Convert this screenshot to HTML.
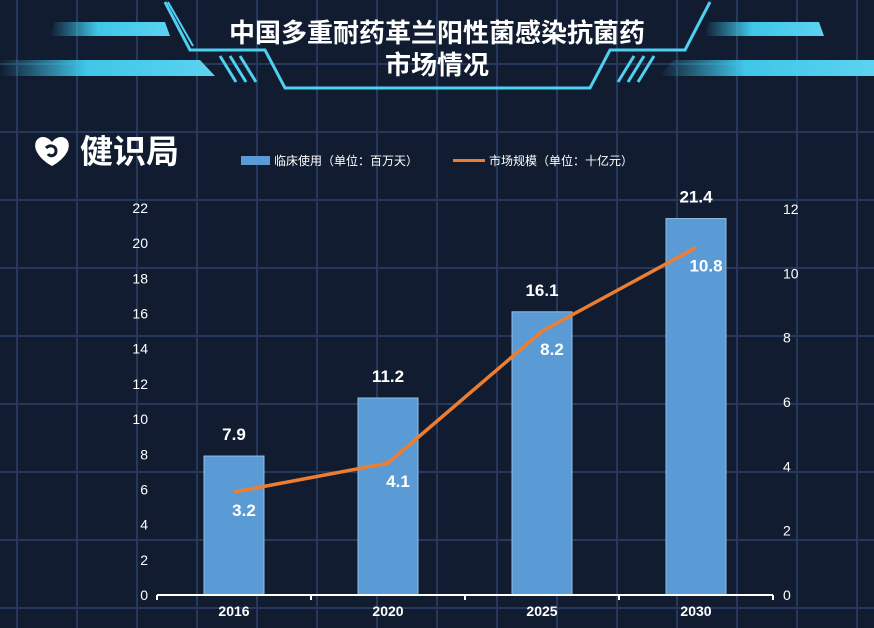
<!DOCTYPE html>
<html><head><meta charset="utf-8">
<style>
html,body{margin:0;padding:0;background:#111c30;}
svg{display:block;font-family:"Liberation Sans","Noto Sans CJK SC",sans-serif;}
</style></head>
<body>
<svg id="chart" width="874" height="628" viewBox="0 0 874 628" xmlns="http://www.w3.org/2000/svg">
<defs>
<linearGradient id="barL" x1="0" x2="1"><stop offset="0" stop-color="#3fc6e8" stop-opacity="0"/><stop offset="0.4" stop-color="#3fc6e8"/><stop offset="1" stop-color="#5bd3f0"/></linearGradient>
<linearGradient id="barR" x1="1" x2="0"><stop offset="0" stop-color="#5bd3f0"/><stop offset="0.6" stop-color="#3fc6e8"/><stop offset="1" stop-color="#3fc6e8" stop-opacity="0"/></linearGradient>
</defs>
<rect width="874" height="628" fill="#111c30"/>
<g id="grid" stroke="#26395a" stroke-width="2"></g>
<g>
<polygon points="0,60 200,60 215,76 0,76" fill="url(#barL)"/>
<polygon points="55,22 165,22 170,36 50,36" fill="url(#barL)"/>
<polygon points="874,60 674,60 659,76 874,76" fill="url(#barR)"/>
<polygon points="819,22 709,22 704,36 824,36" fill="url(#barR)"/>
<polyline points="165,2 190,50 265,50 285,88 590,88 610,50 685,50 710,2" fill="none" stroke="#4fd0f0" stroke-width="3"/>
<polyline points="168,2 193,46" fill="none" stroke="#4fd0f0" stroke-width="2"/>
<g stroke="#4fd0f0" stroke-width="3"><line x1="220" y1="56" x2="236" y2="82"/><line x1="230" y1="56" x2="246" y2="82"/><line x1="240" y1="56" x2="256" y2="82"/><line x1="654" y1="56" x2="638" y2="82"/><line x1="644" y1="56" x2="628" y2="82"/><line x1="634" y1="56" x2="618" y2="82"/></g>
<text x="437" y="42" text-anchor="middle" fill="#fff" font-size="26" font-weight="bold">中国多重耐药革兰阳性菌感染抗菌药</text>
<text x="437" y="74" text-anchor="middle" fill="#fff" font-size="26" font-weight="bold">市场情况</text>
</g>
<g>
<path d="M52,142 C44,132 32,138 36,150 C40,160 52,166 52,166 C52,166 64,160 68,150 C72,138 60,132 52,142 Z" fill="#fff"/>
<path d="M46,148 C50,144 56,146 56,151 C56,156 50,157 48,154" fill="none" stroke="#111c30" stroke-width="3"/>
<text x="80" y="163" fill="#fff" font-size="33" font-weight="bold">健识局</text>
</g>
<g>
<rect x="241" y="156" width="29" height="9" fill="#5b9bd5"/>
<text x="274" y="165" fill="#fff" font-size="12">临床使用（单位：百万天）</text>
<rect x="453" y="159" width="32" height="3" fill="#ed7d31"/>
<text x="489" y="165" fill="#fff" font-size="12">市场规模（单位：十亿元）</text>
</g>
<g id="plot"></g>
</svg>
<script>
const categories = ["2016","2020","2025","2030"];
const clinicalUse = [7.9, 11.2, 16.1, 21.4];
const marketSize = [3.2, 4.1, 8.2, 10.8];
const leftTicks = [0,2,4,6,8,10,12,14,16,18,20,22];
const rightTicks = [0,2,4,6,8,10,12];

const NS = "http://www.w3.org/2000/svg";
const grid = document.getElementById("grid");
for (let x = 17; x < 874; x += 60) { const l = document.createElementNS(NS,"line"); l.setAttribute("x1",x); l.setAttribute("x2",x); l.setAttribute("y1",0); l.setAttribute("y2",628); grid.appendChild(l); }
for (let y = 64; y < 628; y += 68) { const l = document.createElementNS(NS,"line"); l.setAttribute("x1",0); l.setAttribute("x2",874); l.setAttribute("y1",y); l.setAttribute("y2",y); grid.appendChild(l); }

const x0 = 157, x1 = 773, yBase = 595;
const band = (x1 - x0) / categories.length;
const xC = i => x0 + band * (i + 0.5);
const yL = v => yBase - v * (387 / 22);
const yR = v => yBase - v * (386 / 12);
const plot = document.getElementById("plot");
function mk(tag, attrs, text) { const e = document.createElementNS(NS, tag); for (const k in attrs) e.setAttribute(k, attrs[k]); if (text !== undefined) e.textContent = text; plot.appendChild(e); return e; }

leftTicks.forEach(t => {
  const e = mk("text", {x:148, y:yL(t)+5, "text-anchor":"end", fill:"#fff", "font-size":14}, String(t));
  
  
});
rightTicks.forEach(t => {
  const e = mk("text", {x:783, y:yR(t)+5, fill:"#fff", "font-size":14}, String(t));
  
  
});

clinicalUse.forEach((v, i) => {
  const b = mk("rect", {x:xC(i)-30, y:yL(v), width:60, height:yBase-yL(v), fill:"#5b9bd5", stroke:"#8fbfe8", "stroke-width":1});
  
  
  const t = mk("text", {x:xC(i), y:yL(v)-16, "text-anchor":"middle", fill:"#fff", "font-size":17, "font-weight":"bold"}, v.toFixed(1));
  
  
});

const axis = mk("line", {x1:x0, x2:x1, y1:yBase, y2:yBase, stroke:"#fff", "stroke-width":2});


for (let i = 0; i <= categories.length; i++) {
  const tk = mk("line", {x1:x0+band*i, x2:x0+band*i, y1:yBase, y2:yBase+5, stroke:"#fff", "stroke-width":2});
  
  
}
categories.forEach((c, i) => {
  const t = mk("text", {x:xC(i), y:616, "text-anchor":"middle", fill:"#fff", "font-size":14, "font-weight":"bold"}, c);
  
  
});

const pts = marketSize.map((v, i) => xC(i) + "," + yR(v)).join(" ");
const line = mk("polyline", {points:pts, fill:"none", stroke:"#ed7d31", "stroke-width":3.5, "stroke-linejoin":"round"});


marketSize.forEach((v, i) => {
  const t = mk("text", {x:xC(i)+10, y:yR(v)+24, "text-anchor":"middle", fill:"#fff", "font-size":17, "font-weight":"bold"}, v.toFixed(1));
  
  
});
</script>
</body></html>
